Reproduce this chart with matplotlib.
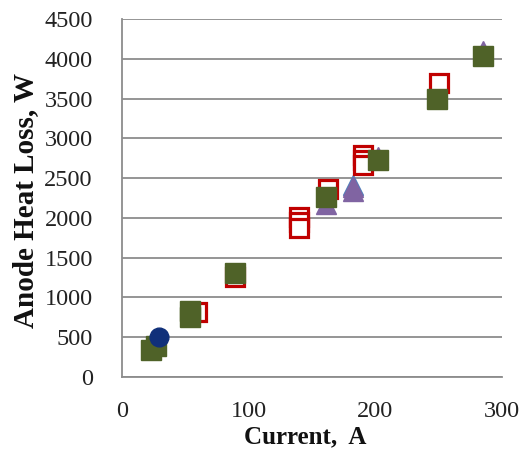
import matplotlib.pyplot as plt

# values
circle_x = [29]
circle_y = [505]

green_x = [23, 27, 54, 54, 89, 161, 202, 249, 285]
green_y = [345, 390, 835, 750, 1310, 2260, 2730, 3490, 4035]

red_x = [59, 89, 140, 140, 140, 163, 190, 190, 190, 250]
red_y = [815, 1255, 2010, 1945, 1875, 2360, 2790, 2728, 2665, 3700]

blue_tri_x = [182]
blue_tri_y = [2410]

purple_x = [161, 182, 182, 202, 285]
purple_y = [2170, 2385, 2340, 2765, 4095]

X_TICKS = [0, 100, 200, 300]
Y_TICKS = list(range(0, 4501, 500))

plt.rcParams['font.family'] = ['Liberation Serif', 'DejaVu Serif']

fig = plt.figure(figsize=(5.27, 4.59), dpi=100)
ax = fig.add_axes([0.2315, 0.1786, 0.7211, 0.78])

ax.plot(blue_tri_x, blue_tri_y, '^', ms=14, color='#4F81BD', mec='#4F81BD', zorder=3)
ax.plot(purple_x, purple_y, '^', ms=14, color='#8064A2', mec='#8064A2', zorder=3)
ax.plot(red_x, red_y, 's', ms=12.5, mfc='white', mec='#C00000', mew=2.3, zorder=4)
ax.plot(green_x, green_y, 's', ms=14, color='#4F6228', mec='#4F6228', zorder=5)
ax.plot(circle_x, circle_y, 'o', ms=13.5, color='#10307A', zorder=6)

ax.set_xlim(0, 300)
ax.set_ylim(0, 4500)
ax.set_xticks(X_TICKS)
ax.set_yticks(Y_TICKS)
ax.tick_params(axis='both', length=0, labelsize=17.5, labelcolor='#222222')
ax.tick_params(axis='y', pad=21)
ax.tick_params(axis='x', pad=17)

ax.grid(axis='y', color='#8C8C8C', lw=1.3)
ax.set_axisbelow(True)
for s in ['top', 'right']:
    ax.spines[s].set_visible(False)
ax.spines['left'].set_color('#8C8C8C')
ax.spines['left'].set_linewidth(1.3)
ax.spines['bottom'].set_color('#8C8C8C')
ax.spines['bottom'].set_linewidth(1.3)

ax.set_xlabel('Current,  A', fontsize=18, fontweight='bold', color='#111111')
ax.xaxis.set_label_coords(0.482, -0.135)
ax.set_ylabel('Anode Heat Loss, W', fontsize=21, fontweight='bold', color='#111111')
ax.yaxis.set_label_coords(-0.218, 0.494)

fig.savefig('out.png', dpi=100)
